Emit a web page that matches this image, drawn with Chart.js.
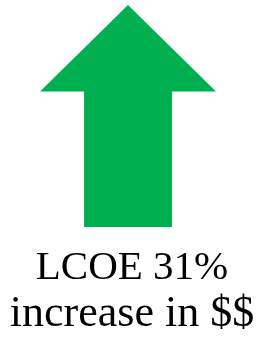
<!DOCTYPE html>
<html>
<head>
<meta charset="utf-8">
<script src="https://cdn.jsdelivr.net/npm/chart.js@4/dist/chart.umd.min.js"></script>
<style>
  html, body { margin: 0; padding: 0; background: #fff; }
  #wrap { width: 264px; height: 338px; }
</style>
</head>
<body>
<div id="wrap"><canvas id="chart"></canvas></div>
<script>
// Arrow outline, in data units (x: head half-widths, y: % of arrow height)
const arrowX = [-0.5, -0.5, -1, 0, 1, 0.5, 0.5, -0.5];
const arrowY = [0, 61, 61, 100, 61, 61, 0, 0];
const captionTop = 'LCOE 31%';
const captionBottom = 'increase in $$';

const green = '#00B050';
const serif = "'Liberation Serif', 'DejaVu Serif', serif";

new Chart(document.getElementById('chart'), {
  type: 'scatter',
  data: {
    datasets: [{
      data: arrowX.map((x, i) => ({ x: x, y: arrowY[i] })),
      showLine: true,
      fill: 'shape',
      backgroundColor: green,
      borderColor: green,
      borderWidth: 0,
      pointRadius: 0,
      tension: 0
    }]
  },
  options: {
    responsive: true,
    maintainAspectRatio: false,
    animation: false,
    layout: { padding: { top: 5, left: 0, right: 0, bottom: 0 } },
    scales: {
      x: { type: 'linear', min: -1.4545, max: 1.5455, display: false },
      y: { min: 0, max: 100, display: false }
    },
    plugins: {
      legend: { display: false },
      tooltip: { enabled: false },
      // subtitle sits closest to the plot, title below it
      subtitle: {
        display: true,
        position: 'bottom',
        text: captionTop,
        color: '#000',
        font: { family: serif, size: 41, lineHeight: 1 },
        padding: { top: 21, bottom: 0 }
      },
      title: {
        display: true,
        position: 'bottom',
        text: captionBottom,
        color: '#000',
        font: { family: serif, size: 44, lineHeight: 1, weight: 'normal' },
        padding: { top: 3, bottom: 2 }
      }
    }
  }
});
</script>
</body>
</html>
